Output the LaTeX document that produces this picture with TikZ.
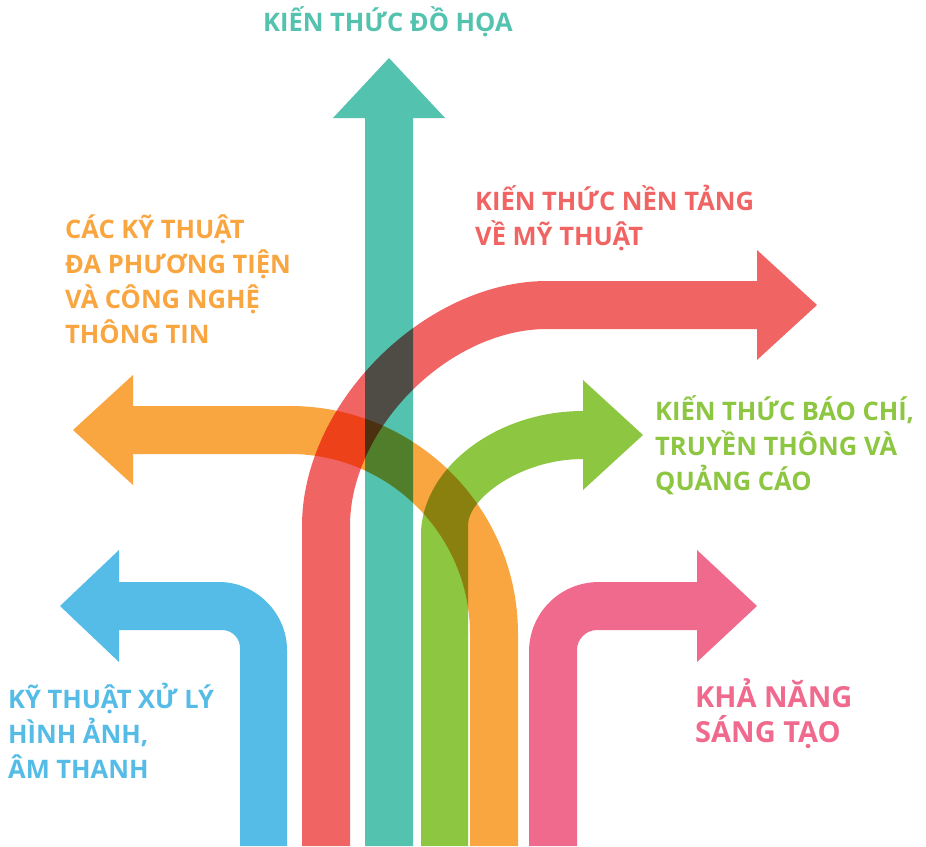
\documentclass[tikz,border=0pt]{standalone}
\usepackage{fontspec}
\setmainfont{Open Sans}
\definecolor{cteal}{HTML}{53C2AE}
\definecolor{cred}{HTML}{F16464}
\definecolor{corange}{HTML}{FAA640}
\definecolor{cgreen}{HTML}{8DC641}
\definecolor{cblue}{HTML}{54BCE6}
\definecolor{cpink}{HTML}{F06A8E}
\tikzset{
  arrowshape/.style={blend mode=multiply},
  lbl/.style={anchor=base west, inner sep=0pt, align=left,
    font=\fontsize{25.5}{35}\selectfont\bfseries},
  biglbl/.style={lbl, font=\fontsize{29}{35}\selectfont\bfseries}
}
\begin{document}
\begin{tikzpicture}[x=1pt,y=-1pt]
\useasboundingbox (0,0) rectangle (926,846);
\fill[white] (0,0) rectangle (926,846);
% teal (up)
\fill[cteal,arrowshape] (365,846) -- (365,118) -- (333,118) -- (389,58) -- (445,118) -- (413,118) -- (413,846) -- cycle;
% blue
\fill[cblue,arrowshape] (240,846) -- (240,648) .. controls (240,638) and (232,630) .. (222,630) -- (119,630) -- (119,662) -- (60,606) -- (119,550) -- (119,582) -- (219,582) .. controls (256,582) and (287,613) .. (287,650) -- (287,846) -- cycle;
% pink
\fill[cpink,arrowshape] (529,846) -- (529,652) .. controls (529,613) and (560,582) .. (599,582) -- (697,582) -- (697,550) -- (757,606) -- (697,662) -- (697,630) -- (597,630) .. controls (586,630) and (577,639) .. (577,650) -- (577,846) -- cycle;
% red
\fill[cred,arrowshape] (302,846) -- (302,526) .. controls (302,403) and (425,281) .. (547,281) -- (757,281) -- (757,250) -- (817,305) -- (757,360) -- (757,329) -- (547,329) .. controls (449,329) and (350,428) .. (350,526) -- (350,846) -- cycle;
% orange
\fill[corange,arrowshape] (73,430) -- (133,375) -- (133,406) -- (290,406) .. controls (416,406) and (518,508) .. (518,634) -- (518,846) -- (470,846) -- (470,634) .. controls (470,535) and (389,454) .. (290,454) -- (133,454) -- (133,485) -- cycle;
% green
\fill[cgreen,arrowshape] (421,846) -- (421,535) .. controls (421,470) and (494,411) .. (583,411) -- (583,380) -- (643,435) -- (583,490) -- (583,459) .. controls (520,459) and (468,499) .. (468,525) -- (468,846) -- cycle;
% labels (base anchor = baseline of the last line)
\node[lbl,text=cteal] (tdohoa) at (263,31) {KIẾN THỨC ĐỒ HỌA};
\node[lbl,text=cred] (tmythuat) at (475,245) {KIẾN THỨC NỀN TẢNG\\VỀ MỸ THUẬT};
\node[lbl,text=corange] (tdaphuongtien) at (65,343) {CÁC KỸ THUẬT\\ĐA PHƯƠNG TIỆN\\VÀ CÔNG NGHỆ\\THÔNG TIN};
\node[lbl,text=cgreen] (tbaochi) at (655,490) {KIẾN THỨC BÁO CHÍ,\\TRUYỀN THÔNG VÀ\\QUẢNG CÁO};
\node[lbl,text=cblue] (txuly) at (8,778) {KỸ THUẬT XỬ LÝ\\HÌNH ẢNH,\\ÂM THANH};
\node[biglbl,text=cpink] (tsangtao) at (695,742) {KHẢ NĂNG\\SÁNG TẠO};
\end{tikzpicture}
\end{document}
